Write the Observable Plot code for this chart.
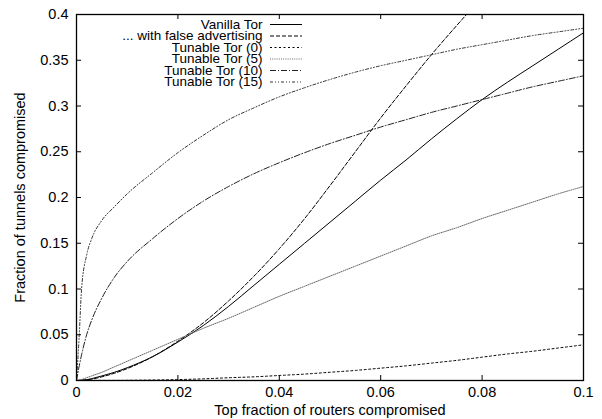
<!DOCTYPE html>
<html>
<head>
<meta charset="utf-8">
<script src="https://cdn.jsdelivr.net/npm/d3@7"></script>
<script src="https://cdn.jsdelivr.net/npm/@observablehq/plot@0.6"></script>
<style>
  html, body { margin: 0; padding: 0; background: #fff; }
  #chart svg { display: block; }
</style>
</head>
<body>
<div id="chart"></div>
<script>
// ---- data ----
const xs = [0, 0.0005, 0.001, 0.002, 0.003, 0.005, 0.0075, 0.01, 0.015, 0.02, 0.025, 0.03, 0.035, 0.04, 0.045, 0.05, 0.055, 0.06, 0.065, 0.07, 0.075, 0.08, 0.085, 0.09, 0.095, 0.1];
const vanilla   = [0, 0.0001, 0.0003, 0.0008, 0.002, 0.005, 0.009, 0.014, 0.026, 0.042, 0.060, 0.081, 0.104, 0.127, 0.150, 0.173, 0.196, 0.219, 0.241, 0.264, 0.286, 0.307, 0.326, 0.344, 0.362, 0.380];
const falseAdv  = [0, 0.0001, 0.0003, 0.0008, 0.0015, 0.004, 0.008, 0.013, 0.026, 0.043, 0.063, 0.087, 0.114, 0.144, 0.177, 0.213, 0.250, 0.287, 0.322, 0.356, 0.388, 0.419, null, null, null, null];
const tunable0  = [0, 0, 0, 0, 0.0001, 0.0001, 0.0001, 0.0002, 0.0005, 0.001, 0.0018, 0.003, 0.004, 0.0055, 0.007, 0.009, 0.011, 0.0135, 0.016, 0.019, 0.022, 0.0255, 0.029, 0.032, 0.0355, 0.039];
const tunable5  = [0, 0.0005, 0.0012, 0.003, 0.005, 0.009, 0.015, 0.021, 0.033, 0.045, 0.057, 0.068, 0.080, 0.092, 0.103, 0.114, 0.125, 0.136, 0.147, 0.158, 0.167, 0.177, 0.186, 0.195, 0.204, 0.212];
const tunable10 = [0, 0.015, 0.028, 0.050, 0.066, 0.090, 0.113, 0.130, 0.155, 0.177, 0.196, 0.212, 0.226, 0.238, 0.249, 0.259, 0.268, 0.277, 0.285, 0.293, 0.300, 0.307, 0.314, 0.321, 0.327, 0.333];
const tunable15 = [0, 0.045, 0.100, 0.137, 0.155, 0.175, 0.190, 0.204, 0.227, 0.249, 0.268, 0.285, 0.298, 0.310, 0.320, 0.329, 0.337, 0.344, 0.350, 0.356, 0.362, 0.367, 0.372, 0.377, 0.381, 0.385];

const seriesNames = ["Vanilla Tor", "... with false advertising", "Tunable Tor (0)", "Tunable Tor (5)", "Tunable Tor (10)", "Tunable Tor (15)"];
const seriesValues = [vanilla, falseAdv, tunable0, tunable5, tunable10, tunable15];

const xTicks = [0, 0.02, 0.04, 0.06, 0.08, 0.1];
const yTicks = [0, 0.05, 0.1, 0.15, 0.2, 0.25, 0.3, 0.35, 0.4];
const xLabel = "Top fraction of routers compromised";
const yLabel = "Fraction of tunnels compromised";

// ---- styles ----
const styles = [
  {stroke: "#000", dash: null},
  {stroke: "#000", dash: "4,2"},
  {stroke: "#000", dash: "2,2.5"},
  {stroke: "#666", dash: "1,1.2"},
  {stroke: "#222", dash: "6,2,1,2"},
  {stroke: "#333", dash: "3,2,1,2,1,2"}
];

const W = 602, H = 419;
const mL = 76, mR = 19, mT = 14, mB = 39;
const innerW = W - mL - mR, innerH = H - mT - mB;
const tickLen = 5;
const font = "Liberation Sans, Arial, Helvetica, sans-serif";

const marks = [];

// series lines
seriesValues.forEach((vals, i) => {
  const rows = xs.map((x, j) => ({x, y: vals[j]}));
  marks.push(Plot.line(rows, {
    x: "x", y: "y", clip: true, curve: "monotone-x",
    stroke: styles[i].stroke, strokeWidth: 1, strokeDasharray: styles[i].dash
  }));
});

// inward ticks (bottom/top/left/right)
marks.push(Plot.tickX(xTicks, {x: d => d, insetTop: innerH - tickLen, stroke: "#000"}));
marks.push(Plot.tickX(xTicks, {x: d => d, insetBottom: innerH - tickLen, stroke: "#000"}));
marks.push(Plot.tickY(yTicks, {y: d => d, insetRight: innerW - tickLen, stroke: "#000"}));
marks.push(Plot.tickY(yTicks, {y: d => d, insetLeft: innerW - tickLen, stroke: "#000"}));

// frame
marks.push(Plot.frame({stroke: "#000", strokeWidth: 1.3}));

// tick labels
marks.push(Plot.axisX(xTicks, {tickSize: 0, tickPadding: 6, tickFormat: d => String(d), fontSize: 14.5, label: null}));
marks.push(Plot.axisY(yTicks, {tickSize: 0, tickPadding: 8, tickFormat: d => String(d), fontSize: 14.5, label: null}));

// axis titles
marks.push(Plot.text([xLabel], {frameAnchor: "bottom", dy: 30, text: d => d, fontSize: 14.5, lineAnchor: "middle", textAnchor: "middle"}));
marks.push(Plot.text([yLabel], {frameAnchor: "left", dx: -56, text: d => d, rotate: -90, fontSize: 14.5, lineAnchor: "middle", textAnchor: "middle"}));

// legend
const rowY = [10, 21.5, 33, 44.5, 56, 67.5];
seriesNames.forEach((name, i) => {
  marks.push(Plot.text([name], {frameAnchor: "top-left", dx: 186, dy: rowY[i], text: d => d, textAnchor: "end", lineAnchor: "middle", fontSize: 13.5}));
  marks.push(Plot.ruleY([yTicks[yTicks.length - 1]], {dy: rowY[i], insetLeft: 194, insetRight: 281, stroke: styles[i].stroke, strokeWidth: 1, strokeDasharray: styles[i].dash}));
});

const chart = Plot.plot({
  width: W, height: H,
  marginLeft: mL, marginRight: mR, marginTop: mT, marginBottom: mB,
  style: {fontFamily: font, fontSize: "14px", color: "#000", background: "#fff"},
  x: {domain: [0, 0.1], axis: null},
  y: {domain: [0, 0.4], axis: null},
  marks
});
document.getElementById("chart").appendChild(chart);
</script>
</body>
</html>
